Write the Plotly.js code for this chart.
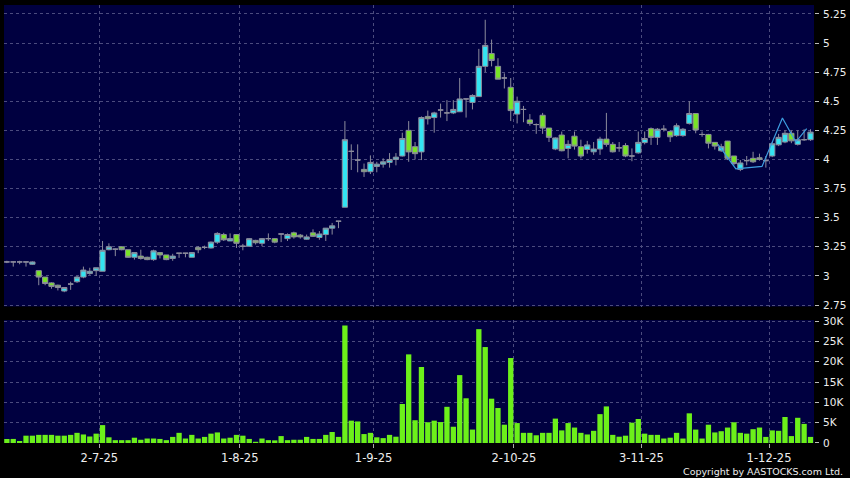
<!DOCTYPE html>
<html>
<head>
<meta charset="utf-8">
<script src="https://cdn.plot.ly/plotly-3.0.1.min.js"></script>
<style>
  html, body { margin: 0; padding: 0; background: #000; }
  #chart { width: 850px; height: 478px; }
</style>
</head>
<body>
<div id="chart"></div>
<script>
// Trading days (category per candle)
const dates = [
  "2025-06-11","2025-06-12","2025-06-13","2025-06-16","2025-06-17","2025-06-18","2025-06-19","2025-06-20","2025-06-23","2025-06-24",
  "2025-06-25","2025-06-26","2025-06-27","2025-06-30",
  "2025-07-02","2025-07-03","2025-07-04","2025-07-07","2025-07-08","2025-07-09","2025-07-10","2025-07-11","2025-07-14","2025-07-15",
  "2025-07-16","2025-07-17","2025-07-18","2025-07-21","2025-07-22","2025-07-23","2025-07-24","2025-07-25","2025-07-28","2025-07-29",
  "2025-07-30","2025-07-31",
  "2025-08-01","2025-08-04","2025-08-05","2025-08-06","2025-08-07","2025-08-08","2025-08-11","2025-08-12","2025-08-13","2025-08-14",
  "2025-08-15","2025-08-18","2025-08-19","2025-08-20","2025-08-21","2025-08-22","2025-08-25","2025-08-26","2025-08-27","2025-08-28",
  "2025-08-29",
  "2025-09-01","2025-09-02","2025-09-03","2025-09-04","2025-09-05","2025-09-08","2025-09-09","2025-09-10","2025-09-11","2025-09-12",
  "2025-09-15","2025-09-16","2025-09-17","2025-09-18","2025-09-19","2025-09-22","2025-09-23","2025-09-24","2025-09-25","2025-09-26",
  "2025-09-29","2025-09-30",
  "2025-10-02","2025-10-03","2025-10-06","2025-10-08","2025-10-09","2025-10-10","2025-10-13","2025-10-14","2025-10-15","2025-10-16",
  "2025-10-17","2025-10-20","2025-10-21","2025-10-22","2025-10-23","2025-10-24","2025-10-27","2025-10-28","2025-10-30","2025-10-31",
  "2025-11-03","2025-11-04","2025-11-05","2025-11-06","2025-11-07","2025-11-10","2025-11-11","2025-11-12","2025-11-13","2025-11-14",
  "2025-11-17","2025-11-18","2025-11-19","2025-11-20","2025-11-21","2025-11-24","2025-11-25","2025-11-26","2025-11-27","2025-11-28",
  "2025-12-01","2025-12-02","2025-12-03","2025-12-04","2025-12-05","2025-12-08","2025-12-09","2025-12-10"
];

const openP = [
  3.12,3.12,3.12,3.12,3.10,3.045,2.99,2.94,2.92,2.87,
  2.93,2.95,2.99,3.02,3.045,3.04,3.225,3.23,3.25,3.225,
  3.16,3.17,3.16,3.14,3.20,3.18,3.15,3.195,3.195,3.16,
  3.245,3.245,3.24,3.29,3.355,3.30,3.355,3.255,3.255,3.305,
  3.28,3.32,3.32,3.36,3.32,3.37,3.35,3.315,3.37,3.33,
  3.355,3.41,3.47,3.59,4.07,3.995,3.915,3.895,3.94,3.96,
  3.975,4.00,4.03,4.25,4.11,4.065,4.37,4.36,4.425,4.40,
  4.40,4.41,4.52,4.49,4.54,4.80,4.91,4.80,4.70,4.62,
  4.39,4.43,4.34,4.30,4.38,4.27,4.09,4.21,4.095,4.20,
  4.11,4.086,4.066,4.09,4.175,4.13,4.10,4.12,4.03,4.057,
  4.145,4.265,4.19,4.26,4.24,4.205,4.205,4.31,4.395,4.215,
  4.215,4.147,4.075,4.158,4.03,3.915,3.99,4.01,4.015,3.99,
  4.03,4.126,4.15,4.225,4.13,4.17,4.17
];
const highP = [
  3.13,3.125,3.13,3.12,3.125,3.045,2.99,2.945,2.925,2.90,
  2.95,3.00,3.08,3.07,3.07,3.30,3.28,3.235,3.255,3.225,
  3.20,3.225,3.165,3.225,3.20,3.18,3.19,3.195,3.195,3.205,
  3.255,3.26,3.295,3.375,3.37,3.365,3.36,3.275,3.325,3.31,
  3.325,3.365,3.325,3.36,3.365,3.38,3.36,3.355,3.40,3.385,
  3.41,3.455,3.47,4.33,4.13,4.13,3.965,4.035,3.98,4.01,
  4.055,4.055,4.23,4.33,4.15,4.37,4.42,4.41,4.48,4.51,
  4.51,4.70,4.52,4.56,4.95,5.20,5.03,4.87,4.74,4.70,
  4.54,4.46,4.39,4.31,4.40,4.27,4.19,4.24,4.165,4.24,
  4.17,4.16,4.15,4.195,4.40,4.15,4.15,4.14,4.095,4.24,
  4.24,4.275,4.27,4.295,4.25,4.31,4.27,4.50,4.395,4.24,
  4.22,4.15,4.135,4.16,4.03,3.995,4.03,4.066,4.05,4.03,
  4.15,4.22,4.25,4.25,4.25,4.26,4.26
];
const lowP = [
  3.11,3.08,3.10,3.08,3.095,2.92,2.92,2.89,2.875,2.86,
  2.88,2.94,2.98,3.01,3.00,3.04,3.22,3.17,3.22,3.155,
  3.14,3.14,3.135,3.13,3.15,3.135,3.13,3.155,3.16,3.16,
  3.195,3.23,3.235,3.275,3.30,3.30,3.24,3.22,3.25,3.27,
  3.255,3.30,3.28,3.29,3.30,3.32,3.32,3.31,3.335,3.31,
  3.30,3.355,3.41,3.59,3.91,3.89,3.85,3.875,3.89,3.93,
  3.93,3.95,4.025,3.98,4.00,3.995,4.30,4.23,4.36,4.33,
  4.39,4.41,4.36,4.43,4.54,4.75,4.80,4.69,4.61,4.33,
  4.31,4.32,4.29,4.22,4.22,4.15,4.08,4.07,4.01,4.085,
  4.01,4.05,4.04,4.04,4.11,4.06,4.066,4.02,3.985,4.05,
  4.13,4.125,4.125,4.24,4.15,4.195,4.195,4.30,4.225,4.195,
  4.095,4.085,4.065,3.995,3.95,3.90,3.95,3.97,3.99,3.93,
  4.02,4.115,4.14,4.14,4.12,4.16,4.16
];
const closeP = [
  3.12,3.12,3.12,3.12,3.12,2.99,2.935,2.91,2.90,2.90,
  2.93,2.99,3.05,3.04,3.07,3.22,3.25,3.23,3.225,3.16,
  3.20,3.15,3.14,3.215,3.18,3.14,3.17,3.195,3.195,3.20,
  3.225,3.245,3.29,3.365,3.31,3.32,3.28,3.255,3.32,3.285,
  3.32,3.32,3.29,3.36,3.355,3.335,3.335,3.335,3.34,3.36,
  3.41,3.43,3.47,4.17,4.07,3.995,3.895,3.975,3.96,3.98,
  4.00,4.02,4.18,4.065,4.05,4.36,4.35,4.40,4.425,4.40,
  4.43,4.52,4.52,4.55,4.80,4.98,4.85,4.69,4.70,4.42,
  4.50,4.43,4.31,4.30,4.27,4.19,4.185,4.075,4.13,4.115,
  4.03,4.125,4.09,4.175,4.13,4.066,4.10,4.03,4.03,4.147,
  4.18,4.19,4.26,4.26,4.195,4.29,4.26,4.395,4.253,4.215,
  4.14,4.115,4.11,4.01,3.965,3.97,3.99,3.98,4.0,3.99,
  4.135,4.19,4.225,4.16,4.17,4.17,4.235
];
const volume = [
  980,1000,500,1800,1800,2000,2000,2000,1800,1800,
  2000,2500,2100,1600,2300,4400,1400,700,700,700,
  1300,800,1100,1100,1000,700,1500,2500,1100,2000,
  1100,1500,2300,2600,1100,1300,2000,1800,1000,300,
  1100,700,650,1700,700,800,800,1500,1000,1000,
  2000,2700,1500,28900,5500,5300,2200,2500,1400,1200,
  2000,1550,9600,21800,5600,18700,5100,5500,5150,8900,
  4000,16700,11000,3300,28000,23600,10900,8600,4500,20900,
  4900,2500,2500,1900,2500,2500,6000,3100,4900,3800,
  2500,2100,3000,7100,9000,2000,1550,1800,5000,5900,
  2300,2000,2000,1100,1300,2500,1100,7300,3300,1100,
  4500,2600,2900,3800,5100,2500,2300,3400,3800,1500,
  3100,3000,6400,1700,6200,4700,1500
];

// Light-blue line drawn over the last weeks (date position, price)
const lineX = [111.5, 114.3, 118.4, 121.6, 123.7, 125.4];
const lineY = [4.13, 3.92, 3.94, 4.357, 4.15, 4.266];

const tickDates = ["2025-07-02","2025-08-01","2025-09-01","2025-10-02","2025-11-03","2025-12-01"];
const tickLabels = ["2-7-25","1-8-25","1-9-25","2-10-25","3-11-25","1-12-25"];
const priceTicks = [2.75,3,3.25,3.5,3.75,4,4.25,4.5,4.75,5,5.25];
const priceTickLabels = ["2.75","3","3.25","3.5","3.75","4","4.25","4.5","4.75","5","5.25"];
const volTicks = [0,5000,10000,15000,20000,25000,30000];
const volTickLabels = ["0","5K","10K","15K","20K","25K","30K"];

const xIdx = dates.map((d, i) => i);
const tickPos = tickDates.map(d => dates.indexOf(d) + 0.5);

const gridColor = "#4b4b7e";
const gridDash = "3px,3px";
const font = "DejaVu Sans, Verdana, sans-serif";

const traces = [
  {
    type: "candlestick",
    x: xIdx, open: openP, high: highP, low: lowP, close: closeP,
    xaxis: "x", yaxis: "y",
    increasing: { line: { color: "#8c8c9c", width: 1 }, fillcolor: "#33e4f2" },
    decreasing: { line: { color: "#8c8c9c", width: 1 }, fillcolor: "#78e426" },
    whiskerwidth: 0,
    hoverinfo: "skip"
  },
  {
    type: "scatter", mode: "lines",
    x: lineX, y: lineY,
    xaxis: "x", yaxis: "y",
    line: { color: "#3d9de0", width: 1.2 },
    hoverinfo: "skip"
  },
  {
    type: "bar",
    x: xIdx, y: volume,
    xaxis: "x2", yaxis: "y2",
    marker: { color: "#6cf01a", line: { width: 0 } },
    hoverinfo: "skip"
  }
];

const layout = {
  width: 850, height: 478,
  paper_bgcolor: "#000000",
  plot_bgcolor: "#000040",
  margin: { l: 4, r: 36, t: 5, b: 35 },
  showlegend: false,
  boxgap: 0.18,
  boxgroupgap: 0,
  bargap: 0.17,
  font: { family: font, color: "#e8e8e8" },
  xaxis: {
    domain: [0, 1], anchor: "y",
    range: [-0.45, 126.55],
    tickvals: tickPos, ticktext: tickLabels,
    showticklabels: false, ticks: "",
    showgrid: true, gridcolor: gridColor, griddash: gridDash, gridwidth: 1,
    zeroline: false, showline: false,
    rangeslider: { visible: false }
  },
  yaxis: {
    domain: [0.3116, 1], anchor: "x", side: "right",
    range: [2.737, 5.327],
    tickvals: priceTicks, ticktext: priceTickLabels,
    ticks: "outside", ticklen: 4, tickcolor: "#bbbbbb",
    ticklabelstandoff: 2,
    tickfont: { family: font, size: 10.5, color: "#eeeeee" },
    showgrid: true, gridcolor: gridColor, griddash: gridDash, gridwidth: 1,
    zeroline: false, showline: false
  },
  xaxis2: {
    domain: [0, 1], anchor: "y2", matches: "x",
    tickvals: tickPos, ticktext: tickLabels,
    ticks: "outside", ticklen: 4, tickcolor: "#aaaaaa",
    tickfont: { family: font, size: 11.5, color: "#eeeeee" },
    showgrid: true, gridcolor: gridColor, griddash: gridDash, gridwidth: 1,
    zeroline: false, showline: false
  },
  yaxis2: {
    domain: [0, 0.2808], anchor: "x2", side: "right",
    range: [0, 30250],
    tickvals: volTicks, ticktext: volTickLabels,
    ticks: "outside", ticklen: 4, tickcolor: "#bbbbbb",
    ticklabelstandoff: 2,
    tickfont: { family: font, size: 10.5, color: "#eeeeee" },
    showgrid: true, gridcolor: gridColor, griddash: gridDash, gridwidth: 1,
    zeroline: false, showline: false
  },
  annotations: [{
    text: "Copyright by AASTOCKS.com Ltd.",
    xref: "paper", yref: "paper",
    x: 1.038, y: -0.064, xanchor: "right", yanchor: "middle",
    showarrow: false,
    font: { family: font, size: 9.5, color: "#eeeeee" }
  }]
};

Plotly.newPlot("chart", traces, layout, { displayModeBar: false, staticPlot: true });
</script>
</body>
</html>
